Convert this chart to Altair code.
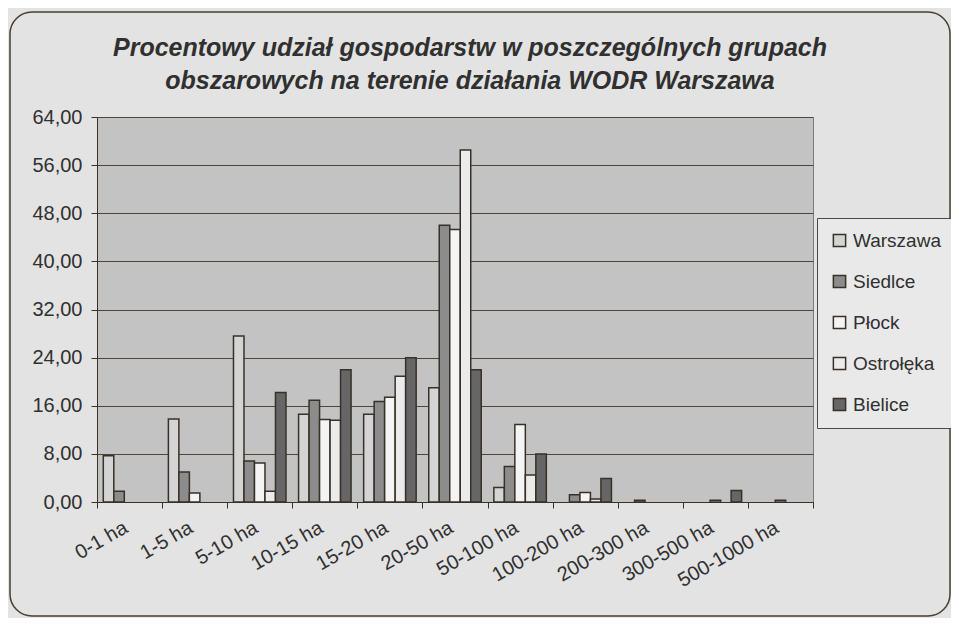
import altair as alt
import pandas as pd

categories = ["0-1 ha", "1-5 ha", "5-10 ha", "10-15 ha", "15-20 ha", "20-50 ha",
              "50-100 ha", "100-200 ha", "200-300 ha", "300-500 ha", "500-1000 ha"]
series = ["Warszawa", "Siedlce", "Płock", "Ostrołęka", "Bielice"]

warszawa = [7.7, 13.8, 27.6, 14.6, 14.6, 19.0, 2.4, 0.0, 0.0, 0.0, 0.0]
siedlce = [1.8, 5.0, 6.8, 16.9, 16.7, 46.0, 5.9, 1.2, 0.3, 0.0, 0.0]
plock = [0.0, 1.5, 6.5, 13.7, 17.4, 45.3, 12.9, 1.6, 0.0, 0.3, 0.3]
ostroleka = [0.0, 0.0, 1.8, 13.6, 20.9, 58.5, 4.5, 0.5, 0.0, 0.0, 0.0]
bielice = [0.0, 0.0, 18.2, 22.0, 24.0, 22.0, 8.0, 3.9, 0.0, 1.9, 0.0]

y_ticks = [0, 8, 16, 24, 32, 40, 48, 56, 64]
colors = ["#d4d4d4", "#8c8c8c", "#f4f4f4", "#ebebeb", "#666666"]

title_lines = ["Procentowy udział gospodarstw w poszczególnych grupach",
               "obszarowych na terenie działania WODR Warszawa"]

rows = []
for name, vals in zip(series, [warszawa, siedlce, plock, ostroleka, bielice]):
    for c, v in zip(categories, vals):
        rows.append({"kategoria": c, "seria": name, "wartosc": v})
df = pd.DataFrame(rows)

FONT = "Liberation Sans"
TXT = "#303030"

bars = alt.Chart(df).transform_filter(
    alt.datum.wartosc > 0
).mark_bar(stroke="#3a3126", strokeWidth=1.5).encode(
    x=alt.X("kategoria:N", sort=categories,
            scale=alt.Scale(domain=categories, paddingInner=0, paddingOuter=0),
            axis=alt.Axis(title=None, labelAngle=-30, tickBand="extent",
                          labelFontSize=20, labelFont=FONT, labelColor=TXT,
                          tickSize=6, labelPadding=9, labelOffset=-9,
                          domainColor="#3a3126", tickColor="#3a3126", grid=False)),
    xOffset=alt.XOffset("seria:N", sort=series,
                        scale=alt.Scale(domain=series, paddingInner=0, paddingOuter=0.6)),
    y=alt.Y("wartosc:Q", scale=alt.Scale(domain=[0, 64], nice=False),
            axis=alt.Axis(title=None, values=y_ticks,
                          labelExpr="replace(format(datum.value, '.2f'), '.', ',')",
                          labelFontSize=20, labelFont=FONT, labelColor=TXT,
                          tickSize=6, labelPadding=9,
                          domainColor="#3a3126", tickColor="#3a3126",
                          grid=True, gridColor="#4e463c", gridWidth=1)),
    color=alt.Color("seria:N", sort=series,
                    scale=alt.Scale(domain=series, range=colors),
                    legend=alt.Legend(title=None, orient="none", legendX=720, legendY=101,
                                      labelFont=FONT, labelFontSize=19, labelColor=TXT,
                                      symbolType="square", symbolSize=150,
                                      symbolStrokeColor="#3a3126", symbolStrokeWidth=1.5,
                                      rowPadding=21, padding=13, labelOffset=4,
                                      strokeColor="#4a4a4a", fillColor="#e9e9e9",
                                      cornerRadius=0))
)

frame = alt.Chart(pd.DataFrame({"k": [0]})).mark_rect(
    fillOpacity=0, stroke="#4a3f30", strokeWidth=1.5, cornerRadius=22
).encode(
    x=alt.value(-87), x2=alt.value(853), y=alt.value(-105), y2=alt.value(499)
)

chart = alt.layer(frame, bars).properties(
    width=716, height=385,
    autosize=alt.AutoSizeParams(type="none"),
    padding={"left": 89, "top": 109, "right": 138, "bottom": 116},
    background="#e3e3e3",
    title=alt.Title(text=title_lines, font=FONT, fontSize=25, fontStyle="italic",
                    fontWeight="bold", color=TXT, anchor="middle", dx=15,
                    offset=-103, baseline="alphabetic", lineHeight=33, frame="group"),
).configure_view(fill="#c3c3c3", stroke="#7a7a7a")

chart.save("out.html", embed_options={"renderer": "svg", "actions": False})
